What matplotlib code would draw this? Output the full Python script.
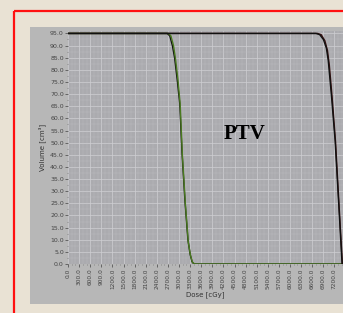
import matplotlib
matplotlib.use("Agg")
import matplotlib.pyplot as plt
from matplotlib.patches import Rectangle
import numpy as np

# Data
dose_a = [0, 2680, 2750, 2820, 2880, 2950, 3020, 3080, 3160, 3240, 3300, 3350, 3400, 7500]
vol_a  = [95, 95, 94, 90, 85, 76, 66, 46, 26, 10, 4, 1, 0, 0]
dose_b = [0, 2710, 2780, 2850, 2900, 2970, 3030, 3090, 3170, 3250, 3310, 3360, 3420, 7500]
vol_b  = [95, 95, 94, 90, 85, 76, 66, 45, 25, 9, 3.5, 0.8, 0, 0]
dose_c = [0, 6700, 6800, 6900, 6980, 7030, 7120, 7216, 7310, 7405]
vol_c  = [95, 95, 94.5, 92.5, 89, 84, 69, 51, 26, 0]
dose_d = [0, 6740, 6840, 6940, 7010, 7060, 7140, 7230, 7320, 7415]
vol_d  = [95, 95, 94.5, 92, 88, 82, 68, 50, 25, 0]

x_ticks = list(range(0, 7500, 300))
y_ticks = [i * 5 for i in range(20)]

W, H = 343, 313
fig = plt.figure(figsize=(W / 100, H / 100), dpi=100)
fig.patch.set_facecolor("#e9e2d4")

# gray panel and red frame
bg = fig.add_axes([0, 0, 1, 1], zorder=0)
bg.set_xlim(0, W)
bg.set_ylim(H, 0)
bg.axis("off")
bg.add_patch(Rectangle((30, 27), W - 30, 304 - 27, facecolor="#b7b7b7", edgecolor="none"))
bg.plot([14, 14], [11, H + 5], color="#ff1010", lw=1.6, solid_capstyle="butt")
bg.plot([14, W + 5], [11, 11], color="#ff1010", lw=1.6, solid_capstyle="butt")

ax = fig.add_axes([68 / W, 1 - 264 / H, (W - 68) / W, (264 - 31) / H], zorder=2)
ax.set_facecolor("#ababaf")
ax.set_xlim(0, 7430)
ax.set_ylim(0, 96)

ax.set_xticks(x_ticks)
ax.set_xticklabels([f"{v:.1f}" for v in x_ticks], rotation=90, fontsize=4.2, color="#2a2a2a")
ax.set_yticks(y_ticks)
ax.set_yticklabels([f"{v:.1f}" for v in y_ticks], fontsize=4.5, color="#2a2a2a")
ax.set_xticks(np.arange(0, 7500, 100), minor=True)
ax.set_yticks(np.arange(0, 96, 2.5), minor=True)
ax.tick_params(axis="both", which="major", length=2, width=0.5, pad=1, colors="#444444")
ax.tick_params(axis="both", which="minor", length=1, width=0.4, colors="#666666")
ax.grid(True, which="major", color="#cfcfd3", lw=0.5)
ax.grid(True, which="minor", color="#bdbdc1", lw=0.3)
ax.set_axisbelow(True)
for s in ax.spines.values():
    s.set_visible(False)

ax.plot(dose_a, vol_a, color="#111111", lw=1.0)
ax.plot(dose_b, vol_b, color="#4a7a20", lw=1.0)
ax.plot(dose_d, vol_d, color="#3a1010", lw=1.0)
ax.plot(dose_c, vol_c, color="#111111", lw=1.0)

ax.text(4780, 53.5, "PTV", fontsize=15, fontweight="bold", family="Liberation Serif",
        color="black", ha="center", va="center")

ax.set_xlabel("Dose [cGy]", fontsize=5, color="#333333", labelpad=2)
ax.set_ylabel("Volume [cm³]", fontsize=5, color="#333333", labelpad=3)

fig.savefig("out.png", dpi=100, facecolor=fig.get_facecolor())
